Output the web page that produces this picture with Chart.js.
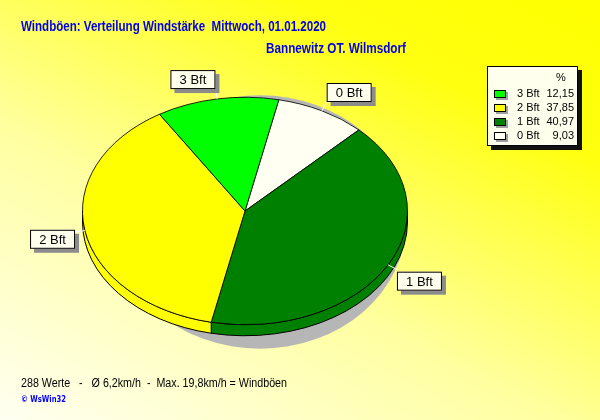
<!DOCTYPE html>
<html>
<head>
<meta charset="utf-8">
<script src="https://cdn.jsdelivr.net/npm/chart.js@4/dist/chart.umd.min.js"></script>
<style>
  html, body { margin: 0; padding: 0; }
  #wrap {
    width: 600px; height: 420px; position: relative;
    background: linear-gradient(208deg, #ffff00 0%, #ffff10 22%, #ffffa0 60%, #fffff2 100%);
  }
  canvas { display: block; }
</style>
</head>
<body>
<div id="wrap"><canvas id="chart" width="600" height="420"></canvas></div>
<script>
// ---- data ----
const labels = ['0 Bft', '1 Bft', '2 Bft', '3 Bft'];
const percents = [9.03, 40.97, 37.85, 12.15];
const colors = ['#FFFFF2', '#008000', '#FFFF00', '#00FF00'];

const titleText = 'Windböen: Verteilung Windstärke  Mittwoch, 01.01.2020';
const subTitle = 'Bannewitz OT. Wilmsdorf';
const footText = '288 Werte   -   Ø 6,2km/h  -  Max. 19,8km/h = Windböen';
const copyText = '© WsWin32';

const K = 0.70;      // ellipse squash
const DEPTH = 11;    // 3d side height

const fmtPct = v => v.toFixed(2).replace('.', ',');

// ========== ELLIPSE / 3D PLUGIN ==========
const ellipsePie = {
  id: 'ellipsePie',
  beforeDatasetsDraw(chart) {
    const ctx = chart.ctx;
    const arcs = chart.getDatasetMeta(0).data;
    const cx = arcs[0].x, cy = arcs[0].y, r = arcs[0].outerRadius;

    // drop shadow
    ctx.save();
    ctx.fillStyle = '#b6b6b6';
    ctx.beginPath();
    ctx.ellipse(cx + 15, cy + 11, r * 0.9, r * 0.78, 0, 0, Math.PI * 2);
    ctx.fill();
    ctx.restore();

    // front sides
    ctx.save();
    ctx.lineWidth = 1;
    ctx.strokeStyle = '#000';
    arcs.forEach(arc => {
      const s = arc.startAngle, e = arc.endAngle;
      [-2 * Math.PI, 0, 2 * Math.PI].forEach(off => {
        const lo = Math.max(s, off), hi = Math.min(e, off + Math.PI);
        if (lo >= hi) return;
        ctx.beginPath();
        ctx.ellipse(cx, cy, r, r * K, 0, lo, hi);
        ctx.ellipse(cx, cy + DEPTH, r, r * K, 0, hi, lo, true);
        ctx.closePath();
        ctx.fillStyle = arc.options.backgroundColor;
        ctx.fill();
        ctx.stroke();
      });
    });
    ctx.restore();

    ctx.save();
    ctx.translate(cx, cy);
    ctx.scale(1, K);
    ctx.translate(-cx, -cy);
  },
  afterDatasetsDraw(chart) {
    chart.ctx.restore();
  },
  afterDraw(chart) {
    const ctx = chart.ctx;
    const arcs = chart.getDatasetMeta(0).data;
    const cx = arcs[0].x, cy = arcs[0].y, r = arcs[0].outerRadius;

    // slice labels
    ctx.save();
    ctx.font = '13px "Liberation Sans", Arial, sans-serif';
    ctx.textBaseline = 'middle';
    ctx.textAlign = 'center';
    arcs.forEach((arc, i) => {
      const mid = (arc.startAngle + arc.endAngle) / 2;
      const c = Math.cos(mid), s = Math.sin(mid);
      const ex = cx + c * r, ey = cy + s * r * K;
      const ax = cx + c * (r + 10), ay = cy + s * (r * K + 10);
      const w = 45, h = 19;
      const bx = c < 0 ? ax - w : ax;
      const by = s < 0 ? ay - h : ay - 5 + s * 15;
      ctx.strokeStyle = '#ffffff';
      ctx.lineWidth = 1;
      ctx.beginPath();
      ctx.moveTo(ex, ey);
      ctx.lineTo(ax, ay);
      ctx.stroke();
      ctx.fillStyle = '#8c8c8c';
      ctx.fillRect(bx + 4, by + 4, w, h);
      ctx.fillStyle = '#FFFFEE';
      ctx.fillRect(bx, by, w, h);
      ctx.strokeStyle = '#000';
      ctx.strokeRect(bx + 0.5, by + 0.5, w - 1, h - 1);
      ctx.fillStyle = '#000';
      ctx.fillText(labels[i], bx + w / 2, by + h / 2 + 1);
    });
    ctx.restore();

    // legend box
    ctx.save();
    const lx = 487, ly = 66, lw = 91, lh = 80;
    ctx.fillStyle = '#111';
    ctx.fillRect(lx + 4, ly + 4, lw, lh);
    ctx.fillStyle = '#FFFFEE';
    ctx.fillRect(lx, ly, lw, lh);
    ctx.strokeStyle = '#000';
    ctx.strokeRect(lx + 0.5, ly + 0.5, lw - 1, lh - 1);
    ctx.font = '11px "Liberation Sans", Arial, sans-serif';
    ctx.fillStyle = '#000';
    ctx.textBaseline = 'middle';
    ctx.textAlign = 'left';
    ctx.fillText('%', 556, 78);
    const order = [3, 2, 1, 0];
    order.forEach((idx, row) => {
      const y = 94 + row * 14;
      ctx.fillStyle = '#a0a0a0';
      ctx.fillRect(496, y - 2, 12, 8);
      ctx.fillStyle = colors[idx];
      ctx.fillRect(494, y - 4, 12, 8);
      ctx.strokeStyle = '#000';
      ctx.strokeRect(494.5, y - 3.5, 11, 7);
      ctx.fillStyle = '#000';
      ctx.textAlign = 'left';
      ctx.fillText(labels[idx], 517, y);
      ctx.textAlign = 'right';
      ctx.fillText(fmtPct(percents[idx]), 574, y);
    });
    ctx.restore();

    // titles and footer
    ctx.save();
    ctx.textBaseline = 'alphabetic';
    ctx.textAlign = 'left';
    ctx.fillStyle = '#0000E8';
    ctx.font = 'bold 14px "Liberation Sans", Arial, sans-serif';
    ctx.fillText(titleText, 21, 31, 305);
    ctx.fillText(subTitle, 266, 53, 140);
    ctx.fillStyle = '#000';
    ctx.font = '12px "Liberation Sans", Arial, sans-serif';
    ctx.fillText(footText, 21, 387, 266);
    ctx.fillStyle = '#0000FF';
    ctx.font = 'bold 9px "DejaVu Sans", sans-serif';
    ctx.fillText(copyText, 21, 402, 45);
    ctx.restore();
  }
};

new Chart(document.getElementById('chart'), {
  type: 'pie',
  data: {
    labels,
    datasets: [{
      data: percents,
      backgroundColor: colors,
      borderColor: '#000',
      borderWidth: 1
    }]
  },
  options: {
    responsive: false,
    animation: false,
    events: [],
    rotation: 12,
    layout: { padding: { left: 82, right: 192, top: 48, bottom: 46 } },
    plugins: {
      legend: { display: false },
      tooltip: { enabled: false }
    }
  },
  plugins: [ellipsePie]
});
</script>
</body>
</html>
